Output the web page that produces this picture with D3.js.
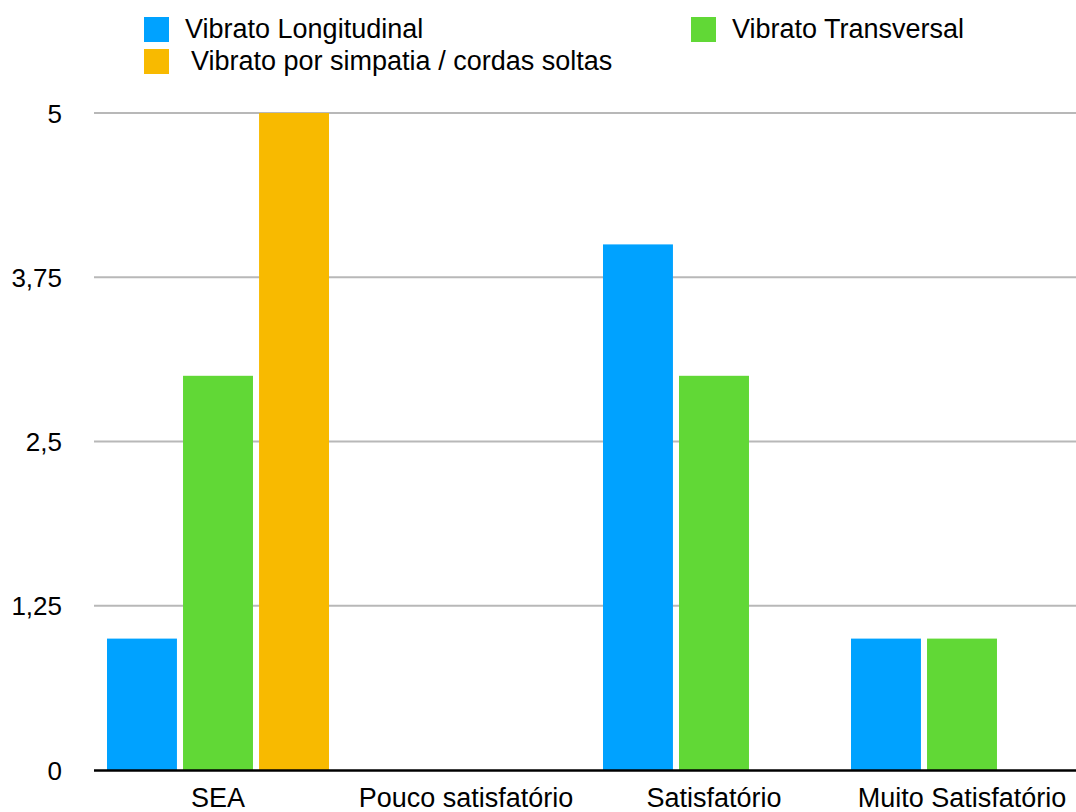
<!DOCTYPE html>
<html>
<head>
<meta charset="utf-8">
<script src="https://d3js.org/d3.v7.min.js"></script>
<style>
  body { margin: 0; background: #fff; }
  svg { display: block; font-family: "Liberation Sans", Arial, Helvetica, sans-serif; }
</style>
</head>
<body>
<svg id="chart"></svg>
<script>
// data
var categories = ["SEA", "Pouco satisfatório", "Satisfatório", "Muito Satisfatório"];
var seriesNames = ["Vibrato Longitudinal", "Vibrato Transversal", "Vibrato por simpatia / cordas soltas"];
var longitudinal = [1, 0, 4, 1];
var transversal = [3, 0, 3, 1];
var simpatia = [5, 0, 0, 0];
var yTicks = [0, 1.25, 2.5, 3.75, 5];
var colors = ["#00a2ff", "#61d836", "#f8ba00"];

var w = 1076;
var h = 812;
var margin = {top: 113, left: 94, bottom: 770};

var svg = d3.select("#chart")
    .attr("width", w)
    .attr("height", h);

// scales
var x0 = d3.scaleBand()
    .domain(categories)
    .range([margin.left, margin.left + 248 * categories.length])
    .padding(0);

var x1 = d3.scaleBand()
    .domain(seriesNames)
    .range([13, 235])
    .paddingInner(0.08)
    .paddingOuter(0);

var yScale = d3.scaleLinear()
    .domain([0, 5])
    .range([margin.bottom, margin.top]);

// gridlines
svg.append("g")
    .selectAll("line")
    .data(yTicks.filter(function(d) { return d > 0; }))
    .enter()
    .append("line")
    .attr("x1", margin.left)
    .attr("x2", w)
    .attr("y1", function(d) { return yScale(d); })
    .attr("y2", function(d) { return yScale(d); })
    .attr("stroke", "#b8b8b8")
    .attr("stroke-width", 2);

// y tick labels
var fmt = function(d) { return String(d).replace(".", ","); };
svg.append("g")
    .selectAll("text")
    .data(yTicks)
    .enter()
    .append("text")
    .attr("x", 62)
    .attr("y", function(d) { return yScale(d) + 9.5; })
    .attr("text-anchor", "end")
    .style("font-size", "26px")
    .attr("fill", "#000")
    .text(fmt);

// bars
var rows = categories.map(function(c, i) {
    return {cat: c, values: [longitudinal[i], transversal[i], simpatia[i]]};
});

var groups = svg.append("g")
    .selectAll("g")
    .data(rows)
    .enter()
    .append("g")
    .attr("transform", function(d) { return "translate(" + x0(d.cat) + ",0)"; });

groups.selectAll("rect")
    .data(function(d) {
        return d.values.map(function(v, j) { return {name: seriesNames[j], value: v, color: colors[j]}; })
            .filter(function(e) { return e.value > 0; });
    })
    .enter()
    .append("rect")
    .attr("x", function(d) { return x1(d.name); })
    .attr("width", x1.bandwidth())
    .attr("y", function(d) { return yScale(d.value); })
    .attr("height", function(d) { return yScale(0) - yScale(d.value); })
    .attr("fill", function(d) { return d.color; });

// x axis line
svg.append("line")
    .attr("x1", margin.left)
    .attr("x2", w)
    .attr("y1", yScale(0) + 0.5)
    .attr("y2", yScale(0) + 0.5)
    .attr("stroke", "#000")
    .attr("stroke-width", 2.5);

// category labels
svg.append("g")
    .selectAll("text")
    .data(categories)
    .enter()
    .append("text")
    .attr("x", function(d) { return x0(d) + x0.bandwidth() / 2; })
    .attr("y", 807)
    .attr("text-anchor", "middle")
    .style("font-size", "27px")
    .attr("fill", "#000")
    .text(function(d) { return d; });

// legend
var legend = [
    {name: seriesNames[0], color: colors[0], x: 144, y: 17, tx: 185},
    {name: seriesNames[1], color: colors[1], x: 691, y: 17, tx: 732},
    {name: seriesNames[2], color: colors[2], x: 144, y: 49, tx: 191}
];

var items = svg.append("g")
    .selectAll("g")
    .data(legend)
    .enter()
    .append("g");

items.append("rect")
    .attr("x", function(d) { return d.x; })
    .attr("y", function(d) { return d.y; })
    .attr("width", 25)
    .attr("height", 25)
    .attr("fill", function(d) { return d.color; });

items.append("text")
    .attr("x", function(d) { return d.tx; })
    .attr("y", function(d) { return d.y + 21; })
    .style("font-size", "27px")
    .attr("fill", "#000")
    .text(function(d) { return d.name; });
</script>
</body>
</html>
